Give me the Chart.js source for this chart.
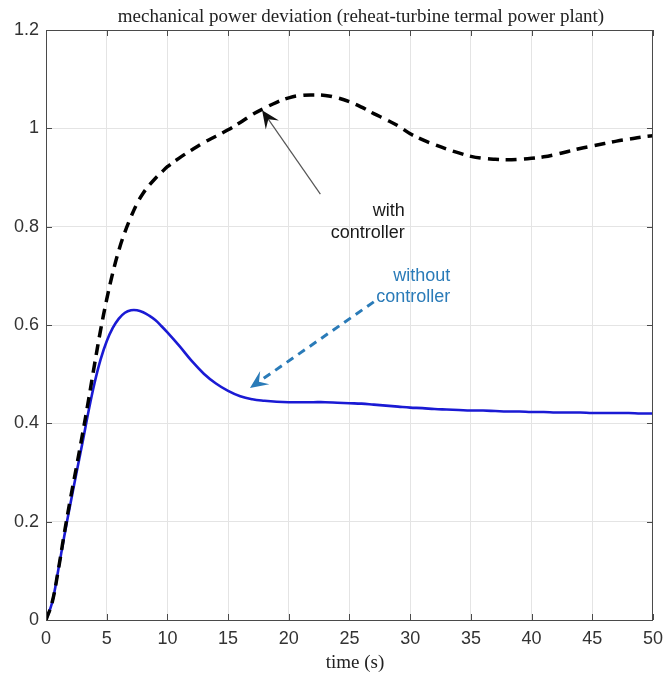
<!DOCTYPE html>
<html>
<head>
<meta charset="utf-8">
<script src="https://cdn.jsdelivr.net/npm/chart.js@4.4.1/dist/chart.umd.min.js"></script>
<style>
  html, body { margin: 0; padding: 0; background: #ffffff; }
  #wrap { width: 671px; height: 677px; }
</style>
</head>
<body>
<div id="wrap"><canvas id="c" width="671" height="677"></canvas></div>
<script>
// ---- data ----
const time = [0,0.5,1,1.5,2,2.5,3,3.5,4,4.5,5,5.5,6,6.5,7,7.5,8,8.5,9,9.5,10,
  11,12,13,14,15,16,17,18,19,20,21,22,23,24,25,26,27,28,29,30,
  31,32,33,34,35,36,37,38,39,40,41,42,43,44,45,46,47,48,49,50];

const withoutController = [0,0.035,0.10,0.17,0.235,0.298,0.36,0.424,0.482,0.53,0.567,0.594,0.613,0.625,0.630,0.630,0.626,0.619,0.610,0.598,0.585,
  0.557,0.527,0.501,0.481,0.466,0.455,0.449,0.446,0.444,0.443,0.443,0.443,0.443,0.442,0.441,0.440,0.438,0.436,0.434,0.432,
  0.431,0.429,0.428,0.427,0.426,0.426,0.425,0.424,0.424,0.423,0.423,0.422,0.422,0.422,0.421,0.421,0.421,0.421,0.420,0.420];

const withController = [0,0.035,0.10,0.175,0.245,0.31,0.377,0.447,0.52,0.59,0.652,0.706,0.752,0.789,0.82,0.847,0.868,0.884,0.898,0.91,0.922,
  0.94,0.956,0.971,0.984,0.997,1.012,1.028,1.041,1.053,1.062,1.067,1.068,1.067,1.062,1.054,1.043,1.030,1.018,1.005,0.989,
  0.977,0.967,0.958,0.950,0.943,0.939,0.937,0.936,0.937,0.939,0.942,0.947,0.953,0.959,0.964,0.969,0.974,0.978,0.982,0.985];

const xTicks = ['0','5','10','15','20','25','30','35','40','45','50'];
const yTicks = ['0','0.2','0.4','0.6','0.8','1','1.2'];

const titleText = 'mechanical power deviation (reheat-turbine termal power plant)';
const xTitleText = 'time (s)';

// annotations (in data units)
const labelNotes = [
  { lines: ['with', 'controller'], x: 29.55, ys: [0.832, 0.787], color: '#1a1a1a' },
  { lines: ['without', 'controller'], x: 33.3, ys: [0.700, 0.6575], color: '#2a7bb8' }
];
const arrowNotes = [
  { from: [22.6, 0.866], to: [17.8, 1.037], color: '#555555', width: 1.2, dash: [], headColor: '#111111' },
  { from: [27.0, 0.647], to: [16.8, 0.472], color: '#2a7bb8', width: 3, dash: [8, 6], headColor: '#2a7bb8' }
];

function pts(ys) { return time.map((t, i) => ({ x: t, y: ys[i] })); }

function drawHead(ctx, x1, y1, x2, y2, color) {
  const ang = Math.atan2(y2 - y1, x2 - x1);
  const L = 18, W = 8, back = 11;
  ctx.save();
  ctx.translate(x2, y2);
  ctx.rotate(ang);
  ctx.setLineDash([]);
  ctx.fillStyle = color;
  ctx.beginPath();
  ctx.moveTo(0, 0);
  ctx.lineTo(-L, -W);
  ctx.lineTo(-back, 0);
  ctx.lineTo(-L, W);
  ctx.closePath();
  ctx.fill();
  ctx.restore();
}

const decor = {
  id: 'decor',
  afterDraw(chart) {
    const ctx = chart.ctx;
    const a = chart.chartArea;
    const xs = chart.scales.x, ys = chart.scales.y;
    ctx.save();
    // box
    ctx.strokeStyle = '#4a4a4a';
    ctx.lineWidth = 1;
    ctx.strokeRect(a.left + 0.5, a.top + 0.5, a.right - a.left - 1, a.bottom - a.top);
    // inside ticks
    ctx.beginPath();
    xs.ticks.forEach(t => {
      const px = Math.round(xs.getPixelForValue(t.value)) + 0.5;
      ctx.moveTo(px, a.bottom); ctx.lineTo(px, a.bottom - 6);
      ctx.moveTo(px, a.top); ctx.lineTo(px, a.top + 6);
    });
    ys.ticks.forEach(t => {
      const py = Math.round(ys.getPixelForValue(t.value)) + 0.5;
      ctx.moveTo(a.left, py); ctx.lineTo(a.left + 6, py);
      ctx.moveTo(a.right, py); ctx.lineTo(a.right - 6, py);
    });
    ctx.stroke();

    // arrows
    arrowNotes.forEach(n => {
      const x1 = xs.getPixelForValue(n.from[0]), y1 = ys.getPixelForValue(n.from[1]);
      const x2 = xs.getPixelForValue(n.to[0]), y2 = ys.getPixelForValue(n.to[1]);
      const ang = Math.atan2(y2 - y1, x2 - x1);
      ctx.save();
      ctx.strokeStyle = n.color;
      ctx.lineWidth = n.width;
      ctx.setLineDash(n.dash);
      ctx.beginPath();
      ctx.moveTo(x1, y1);
      ctx.lineTo(x2 - Math.cos(ang) * 9, y2 - Math.sin(ang) * 9);
      ctx.stroke();
      ctx.restore();
      drawHead(ctx, x1, y1, x2, y2, n.headColor);
    });

    // text labels
    ctx.font = '18px "Liberation Sans", Arial, sans-serif';
    ctx.textAlign = 'right';
    ctx.textBaseline = 'middle';
    labelNotes.forEach(n => {
      ctx.fillStyle = n.color;
      n.lines.forEach((s, i) => {
        ctx.fillText(s, xs.getPixelForValue(n.x), ys.getPixelForValue(n.ys[i]));
      });
    });

    // titles
    ctx.fillStyle = '#222222';
    ctx.textAlign = 'center';
    ctx.font = '19px "Liberation Serif", "Times New Roman", serif';
    ctx.fillText(titleText, 361, 17);
    ctx.fillText(xTitleText, 355, 663);
    ctx.restore();
  }
};

new Chart(document.getElementById('c'), {
  type: 'line',
  data: {
    datasets: [
      {
        label: 'without controller',
        data: pts(withoutController),
        borderColor: '#1a1ad4',
        borderWidth: 2.6,
        pointRadius: 0,
        tension: 0.4,
        fill: false,
        order: 2
      },
      {
        label: 'with controller',
        data: pts(withController),
        borderColor: '#000000',
        borderWidth: 3.5,
        borderDash: [11, 7],
        pointRadius: 0,
        tension: 0.4,
        fill: false,
        order: 1
      }
    ]
  },
  plugins: [decor],
  options: {
    responsive: false,
    animation: false,
    devicePixelRatio: 1,
    layout: { padding: { top: 30, right: 11, left: 0, bottom: 0 } },
    plugins: { legend: { display: false }, title: { display: false }, tooltip: { enabled: false } },
    scales: {
      x: {
        type: 'linear', min: 0, max: 50,
        afterFit(s) { s.height = 57; },
        ticks: {
          stepSize: 5, padding: 8, color: '#333333',
          font: { family: '"Liberation Sans", Arial, sans-serif', size: 18 },
          callback: (v) => xTicks[Math.round(v / 5)]
        },
        grid: { color: '#e4e4e4', lineWidth: 1, drawTicks: false },
        border: { display: false }
      },
      y: {
        type: 'linear', min: 0, max: 1.2,
        afterFit(s) { s.width = 46; },
        ticks: {
          stepSize: 0.2, padding: 7, color: '#333333',
          font: { family: '"Liberation Sans", Arial, sans-serif', size: 18 },
          callback: (v) => yTicks[Math.round(v / 0.2)]
        },
        grid: { color: '#e4e4e4', lineWidth: 1, drawTicks: false },
        border: { display: false }
      }
    }
  }
});
</script>
</body>
</html>
